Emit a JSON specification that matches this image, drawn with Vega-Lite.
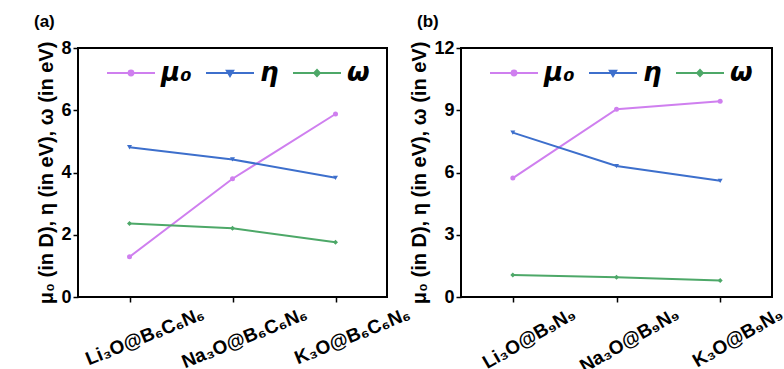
{
  "$schema": "https://vega.github.io/schema/vega-lite/v6.json",
  "padding": {"left": 33, "top": 12, "right": 5, "bottom": 5},
  "bounds": "flush",
  "spacing": 74,
  "background": "white",
  "config": {
    "font": "Liberation Sans",
    "view": {"stroke": "black", "strokeWidth": 2},
    "axis": {
      "grid": false,
      "domain": false,
      "tickColor": "black",
      "tickWidth": 1.5,
      "tickSize": 5,
      "labelColor": "black",
      "labelFont": "Liberation Sans",
      "labelFontWeight": "bold",
      "labelFontSize": 18,
      "titleColor": "black",
      "titleFont": "Liberation Sans",
      "titleFontWeight": "bold",
      "titleFontSize": 20
    },
    "legend": {
      "orient": "none",
      "direction": "horizontal",
      "legendX": 28,
      "legendY": 0,
      "title": null,
      "symbolSize": 2304,
      "symbolStrokeWidth": 2,
      "labelFont": "DejaVu Sans",
      "labelFontSize": 26,
      "labelFontStyle": "italic",
      "labelFontWeight": "bold",
      "labelColor": "black",
      "labelOffset": 5,
      "columnPadding": 10
    },
    "title": {"font": "Liberation Sans", "fontSize": 17, "fontWeight": "bold", "color": "black", "anchor": "start", "frame": "group"}
  },
  "datasets": {
    "a": [
      {"compound": "Li₃O@B₆C₆N₆", "param": "μ₀", "value": 1.29},
      {"compound": "Na₃O@B₆C₆N₆", "param": "μ₀", "value": 3.80},
      {"compound": "K₃O@B₆C₆N₆", "param": "μ₀", "value": 5.88},
      {"compound": "Li₃O@B₆C₆N₆", "param": "η", "value": 4.81},
      {"compound": "Na₃O@B₆C₆N₆", "param": "η", "value": 4.42},
      {"compound": "K₃O@B₆C₆N₆", "param": "η", "value": 3.83},
      {"compound": "Li₃O@B₆C₆N₆", "param": "ω", "value": 2.36},
      {"compound": "Na₃O@B₆C₆N₆", "param": "ω", "value": 2.21},
      {"compound": "K₃O@B₆C₆N₆", "param": "ω", "value": 1.76}
    ],
    "b": [
      {"compound": "Li₃O@B₉N₉", "param": "μ₀", "value": 5.73},
      {"compound": "Na₃O@B₉N₉", "param": "μ₀", "value": 9.05},
      {"compound": "K₃O@B₉N₉", "param": "μ₀", "value": 9.43},
      {"compound": "Li₃O@B₉N₉", "param": "η", "value": 7.92},
      {"compound": "Na₃O@B₉N₉", "param": "η", "value": 6.31},
      {"compound": "K₃O@B₉N₉", "param": "η", "value": 5.60},
      {"compound": "Li₃O@B₉N₉", "param": "ω", "value": 1.06},
      {"compound": "Na₃O@B₉N₉", "param": "ω", "value": 0.95},
      {"compound": "K₃O@B₉N₉", "param": "ω", "value": 0.80}
    ]
  },
  "resolve": {"legend": {"color": "independent"}, "scale": {"y": "independent", "x": "independent"}},
  "hconcat": [
    {
      "width": 309,
      "height": 249,
      "data": {"name": "a"},
      "title": {"text": "(a)", "dx": -44, "offset": 8},
      "encoding": {
        "x": {"field": "compound", "type": "nominal", "sort": null, "title": null,
              "scale": {"type": "point", "padding": 0.5},
              "axis": {"labelAngle": -22, "labelPadding": 2, "labelOffset": 70, "labelFontSize": 19}},
        "y": {"field": "value", "type": "quantitative", "scale": {"domain": [0, 8], "nice": false},
              "axis": {"values": [0, 2, 4, 6, 8], "title": "μ₀ (in D), η (in eV), ω (in eV)", "titlePadding": 4, "labelPadding": 2}},
        "color": {"field": "param", "type": "nominal", "sort": null,
                  "scale": {"domain": ["μ₀", "η", "ω"], "range": ["#CF7FEF", "#3D6FCC", "#4DA868"]},
                  "legend": {"encode": {"symbols": {"update": {
                    "shape": {"signal": "['M-1,0H1M0.1,0A0.1,0.1,0,1,1,-0.1,0A0.1,0.1,0,1,1,0.1,0Z','M-1,0H1M-0.13,-0.09L0.13,-0.09L0,0.13Z','M-1,0H1M0,-0.13L0.12,0L0,0.13L-0.12,0Z'][datum.index]"},
                    "fill": {"signal": "['#CF7FEF','#3D6FCC','#4DA868'][datum.index]"},
                    "stroke": {"signal": "['#CF7FEF','#3D6FCC','#4DA868'][datum.index]"},
                    "fillOpacity": {"value": 1},
                    "strokeWidth": {"value": 2}
                  }}}}}
      },
      "layer": [
        {"mark": {"type": "line", "strokeWidth": 2}},
        {"mark": {"type": "point", "filled": true, "size": 25, "opacity": 1},
         "encoding": {"shape": {"field": "param", "type": "nominal", "legend": null,
                                "scale": {"domain": ["μ₀", "η", "ω"], "range": ["circle", "triangle-down", "diamond"]}}}}
      ]
    },
    {
      "width": 311,
      "height": 249,
      "data": {"name": "b"},
      "title": {"text": "(b)", "dx": -44, "offset": 8},
      "encoding": {
        "x": {"field": "compound", "type": "nominal", "sort": null, "title": null,
              "scale": {"type": "point", "padding": 0.5},
              "axis": {"labelAngle": -30, "labelPadding": 2, "labelOffset": 56, "labelFontSize": 19}},
        "y": {"field": "value", "type": "quantitative", "scale": {"domain": [0, 12], "nice": false},
              "axis": {"values": [0, 3, 6, 9, 12], "title": "μ₀ (in D), η (in eV), ω (in eV)", "titlePadding": 4, "labelPadding": 2}},
        "color": {"field": "param", "type": "nominal", "sort": null,
                  "scale": {"domain": ["μ₀", "η", "ω"], "range": ["#CF7FEF", "#3D6FCC", "#4DA868"]},
                  "legend": {"encode": {"symbols": {"update": {
                    "shape": {"signal": "['M-1,0H1M0.1,0A0.1,0.1,0,1,1,-0.1,0A0.1,0.1,0,1,1,0.1,0Z','M-1,0H1M-0.13,-0.09L0.13,-0.09L0,0.13Z','M-1,0H1M0,-0.13L0.12,0L0,0.13L-0.12,0Z'][datum.index]"},
                    "fill": {"signal": "['#CF7FEF','#3D6FCC','#4DA868'][datum.index]"},
                    "stroke": {"signal": "['#CF7FEF','#3D6FCC','#4DA868'][datum.index]"},
                    "fillOpacity": {"value": 1},
                    "strokeWidth": {"value": 2}
                  }}}}}
      },
      "layer": [
        {"mark": {"type": "line", "strokeWidth": 2}},
        {"mark": {"type": "point", "filled": true, "size": 25, "opacity": 1},
         "encoding": {"shape": {"field": "param", "type": "nominal", "legend": null,
                                "scale": {"domain": ["μ₀", "η", "ω"], "range": ["circle", "triangle-down", "diamond"]}}}}
      ]
    }
  ]
}
